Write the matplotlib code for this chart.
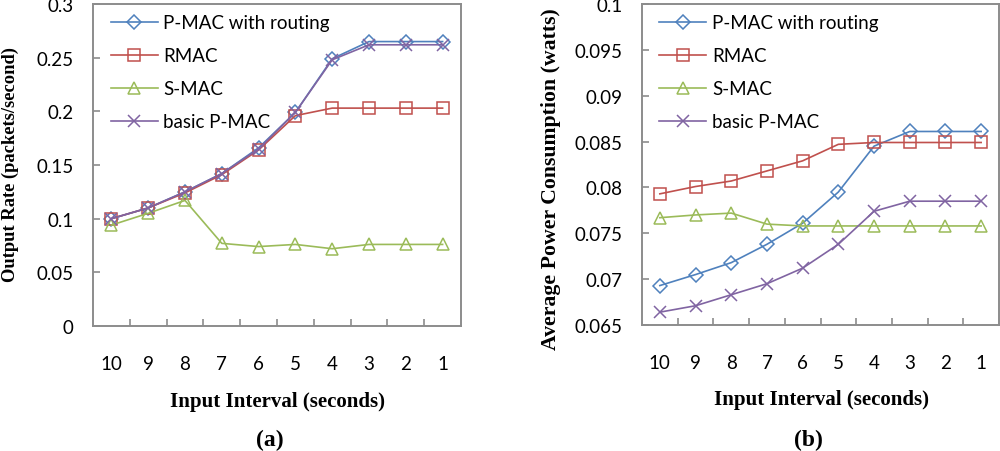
import numpy as np
import matplotlib
matplotlib.use("Agg")
import matplotlib.pyplot as plt

# Input interval categories (seconds), plotted left to right
intervals = ["10", "9", "8", "7", "6", "5", "4", "3", "2", "1"]

# (a) Output rate (packets/second)
rate_pmac_routing = [0.100, 0.110, 0.125, 0.142, 0.166, 0.199, 0.249, 0.265, 0.265, 0.265]
rate_rmac = [0.100, 0.110, 0.124, 0.141, 0.164, 0.196, 0.203, 0.203, 0.203, 0.203]
rate_smac = [0.094, 0.105, 0.117, 0.077, 0.074, 0.076, 0.072, 0.076, 0.076, 0.076]
rate_basic_pmac = [0.100, 0.110, 0.125, 0.142, 0.165, 0.199, 0.248, 0.262, 0.262, 0.262]

# (b) Average power consumption (watts)
power_pmac_routing = [0.0693, 0.0705, 0.0718, 0.0738, 0.0761, 0.0795, 0.0845, 0.0861, 0.0861, 0.0861]
power_rmac = [0.0793, 0.0801, 0.0807, 0.0818, 0.0829, 0.0847, 0.0849, 0.0849, 0.0849, 0.0849]
power_smac = [0.0767, 0.0770, 0.0772, 0.0760, 0.0758, 0.0758, 0.0758, 0.0758, 0.0758, 0.0758]
power_basic_pmac = [0.0664, 0.0671, 0.0683, 0.0695, 0.0712, 0.0738, 0.0774, 0.0785, 0.0785, 0.0785]

labels = ["P-MAC with routing", "RMAC", "S-MAC", "basic P-MAC"]
colors = ["#4F81BD", "#C0504D", "#9BBB59", "#8064A2"]
markers = ["D", "s", "^", "x"]
msizes = [7, 8.5, 8.5, 9]

tick_font = "Lato"
label_font = "Liberation Serif"
spine_color = "#8c8c8c"


def draw_panel(ax, series, ylim, yticks, yfmt):
    x = np.arange(len(intervals))
    for vals, lab, col, mk, ms in zip(series, labels, colors, markers, msizes):
        ax.plot(x, vals, color=col, marker=mk, markersize=ms, markerfacecolor="none",
                markeredgecolor=col, markeredgewidth=1.1, linewidth=1.2, label=lab)
    ax.set_xlim(-0.5, len(intervals) - 0.5)
    ax.set_ylim(*ylim)
    ax.set_xticks(x)
    ax.set_xticklabels(intervals, fontfamily=tick_font, fontsize=13.5)
    ax.set_xticks(np.arange(0.5, len(intervals) - 1, 1.0), minor=True)
    ax.tick_params(axis="x", which="major", length=0, pad=21)
    ax.tick_params(axis="x", which="minor", direction="in", length=5, width=1.2, color=spine_color)
    ax.set_yticks(yticks)
    ax.set_yticklabels([yfmt(v) for v in yticks], fontfamily=tick_font, fontsize=13.5)
    ax.tick_params(axis="y", direction="in", length=5, width=1.2, color=spine_color, pad=14)
    for s in ax.spines.values():
        s.set_color(spine_color)
        s.set_linewidth(1.4)
    leg = ax.legend(loc="upper left", bbox_to_anchor=(0.02, 1.0), frameon=False,
                    prop={"family": tick_font, "size": 13.5}, handlelength=2.5,
                    handletextpad=0.3, labelspacing=0.85, borderaxespad=0.15)
    return leg


fig = plt.figure(figsize=(10, 4.52), dpi=100)
ax1 = fig.add_axes([0.093, 1 - 327 / 452, 0.368, 322 / 452])
ax2 = fig.add_axes([0.642, 1 - 326 / 452, 0.357, 321 / 452])

draw_panel(ax1, [rate_pmac_routing, rate_rmac, rate_smac, rate_basic_pmac],
           (0, 0.3), [0, 0.05, 0.1, 0.15, 0.2, 0.25, 0.3], lambda v: f"{v:g}")
draw_panel(ax2, [power_pmac_routing, power_rmac, power_smac, power_basic_pmac],
           (0.065, 0.1), [0.065, 0.07, 0.075, 0.08, 0.085, 0.09, 0.095, 0.1],
           lambda v: f"{round(v, 3):g}")

lab = dict(family=label_font, weight="bold")
fig.text(0.010, 1 - 165 / 452, "Output Rate (packets/second)", rotation=90, ha="center", va="center",
         fontsize=13.3, **lab)
fig.text(0.551, 1 - 179 / 452, "Average Power Consumption (watts)", rotation=90, ha="center", va="center",
         fontsize=15.7, **lab)
fig.text(0.277, 1 - 402 / 452, "Input Interval (seconds)", ha="center", va="center", fontsize=15, **lab)
fig.text(0.822, 1 - 400 / 452, "Input Interval (seconds)", ha="center", va="center", fontsize=15, **lab)
fig.text(0.270, 1 - 440 / 452, "(a)", ha="center", va="center", fontsize=17, **lab)
fig.text(0.808, 1 - 440 / 452, "(b)", ha="center", va="center", fontsize=17, **lab)

fig.savefig("out.png", dpi=100)
